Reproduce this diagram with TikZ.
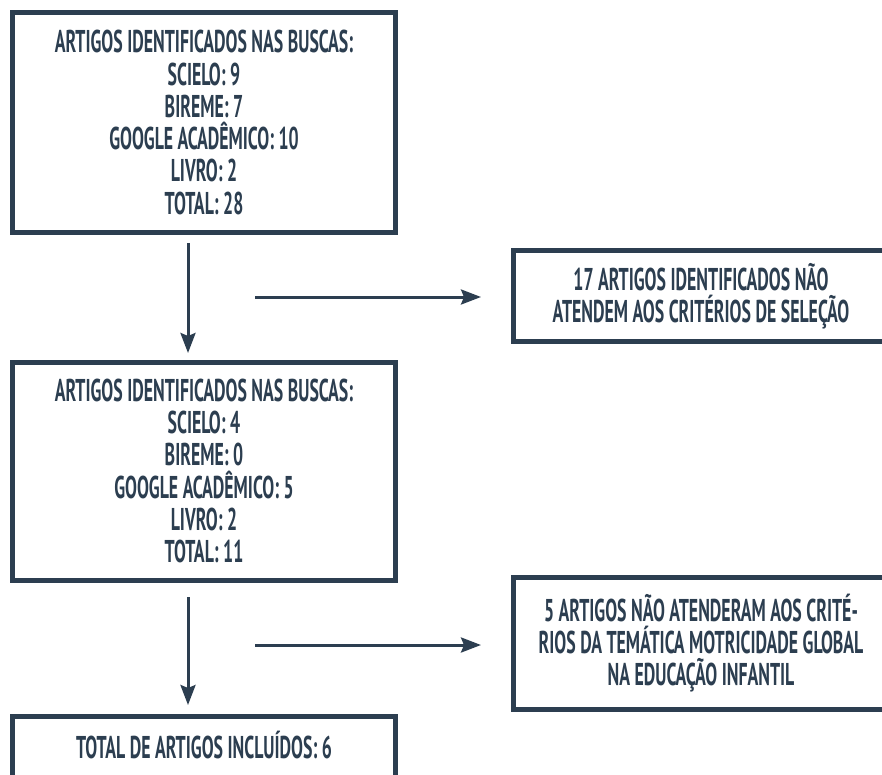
\documentclass[tikz,border=0pt]{standalone}
\usepackage{fontspec}
\setmainfont{PT Sans}[FakeStretch=0.565]
\usetikzlibrary{arrows.meta}
\definecolor{slate}{HTML}{2C3E50}
\begin{document}
\begin{tikzpicture}[x=1pt,y=-1pt,
  box/.style={draw=slate, line width=5pt, rectangle, inner sep=0pt, outer sep=0pt,
    align=center, text=slate, font=\fontsize{31.5}{32.3}\selectfont\bfseries},
  txt/.style={inner sep=0pt, align=center, text=slate, font=\fontsize{31.5}{32.3}\selectfont\bfseries},
  arr/.style={draw=slate, line width=3pt, -{Stealth[length=20pt,width=15pt,inset=3pt]}}]
\useasboundingbox (0,0) rectangle (882,775);
\node[box, minimum width=383, minimum height=220] (b1) at (204,122.5)
  {ARTIGOS IDENTIFICADOS NAS BUSCAS:\\SCIELO: 9\\BIREME: 7\\GOOGLE ACADÊMICO: 10\\LIVRO: 2\\TOTAL: 28};
\node[box, minimum width=383, minimum height=218] (b2) at (204,471)
  {ARTIGOS IDENTIFICADOS NAS BUSCAS:\\SCIELO: 4\\BIREME: 0\\GOOGLE ACADÊMICO: 5\\LIVRO: 2\\TOTAL: 11};
\node[box, minimum width=376, minimum height=90] (ba) at (701,296)
  {17 ARTIGOS IDENTIFICADOS NÃO\\ATENDEM AOS CRITÉRIOS DE SELEÇÃO};
\node[box, minimum width=376, minimum height=132] (bb) at (701,643)
  {5 ARTIGOS NÃO ATENDERAM AOS CRITÉ-\\RIOS DA TEMÁTICA MOTRICIDADE GLOBAL\\NA EDUCAÇÃO INFANTIL};
\node[box, minimum width=383, minimum height=160] (b3) at (204,796) {};
\node[txt] (t3) at (204,745) {TOTAL DE ARTIGOS INCLUÍDOS: 6};
\coordinate (v1s) at (188,243);
\coordinate (v1e) at (188,353);
\coordinate (v2s) at (188,597);
\coordinate (v2e) at (188,705);
\coordinate (h1s) at (255,297);
\coordinate (h1e) at (481,297);
\coordinate (h2s) at (255,645);
\coordinate (h2e) at (481,645);
\draw[arr] (v1s) -- (v1e);
\draw[arr] (v2s) -- (v2e);
\draw[arr] (h1s) -- (h1e);
\draw[arr] (h2s) -- (h2e);
\end{tikzpicture}
\end{document}
